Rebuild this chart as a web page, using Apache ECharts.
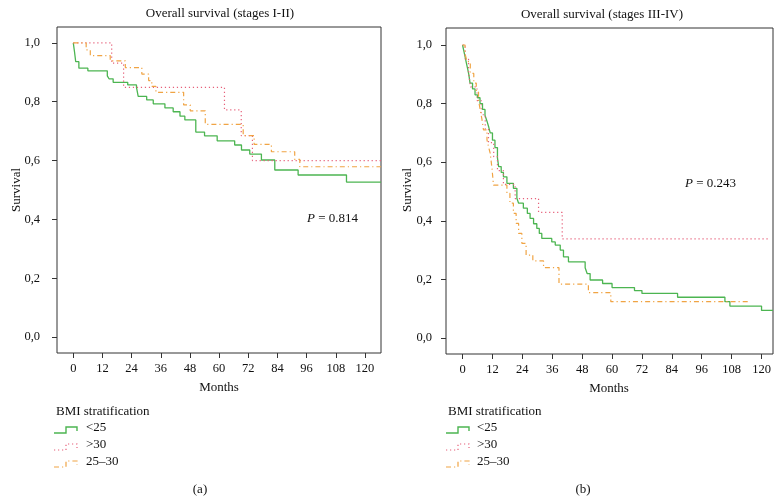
<!DOCTYPE html>
<html>
<head>
<meta charset="utf-8">
<script src="https://cdn.jsdelivr.net/npm/echarts@6/dist/echarts.min.js"></script>
<style>html,body{margin:0;padding:0;background:#fff}#c{width:782px;height:503px}</style>
</head>
<body>
<div id="c"></div>
<script>
// ---------- DATA ----------
const xTicks = [0, 12, 24, 36, 48, 60, 72, 84, 96, 108, 120];
const yTicks = [0, 0.2, 0.4, 0.6, 0.8, 1.0];
const legendNames = ['<25', '>30', '25\u201330'];

// Panel (a): stages I-II
const a_lt25_t = [0, 0.5, 1.0, 2.3, 6.0, 14.0, 14.7, 16.4, 22.4, 26.0, 26.7, 30.2, 32.9, 37.7, 41.1, 43.9, 45.9, 50.4, 54.0, 59.2, 66.4, 69.2, 72.6, 77.4, 82.9, 92.5, 112.4, 126.6];
const a_lt25_s = [1.0, 0.97, 0.936, 0.914, 0.905, 0.888, 0.878, 0.866, 0.857, 0.849, 0.818, 0.806, 0.793, 0.779, 0.766, 0.751, 0.738, 0.697, 0.684, 0.667, 0.653, 0.636, 0.622, 0.602, 0.568, 0.551, 0.527, 0.527];
const a_gt30_t = [0, 15.8, 20.7, 62.2, 69.1, 73.7, 126.6];
const a_gt30_s = [1.0, 0.931, 0.849, 0.772, 0.685, 0.600, 0.600];
const a_mid_t = [0, 5.3, 7.0, 15.2, 21.4, 28.2, 31.0, 32.3, 34.0, 45.4, 48.1, 54.3, 69.9, 74.4, 81.5, 91.1, 93.2, 126.6];
const a_mid_s = [1.0, 0.976, 0.957, 0.939, 0.916, 0.894, 0.872, 0.852, 0.832, 0.789, 0.769, 0.723, 0.685, 0.655, 0.630, 0.604, 0.579, 0.579];

// Panel (b): stages III-IV
const b_lt25_t = [0, 0.5, 1.0, 1.5, 2.0, 2.5, 3.0, 4.0, 5.0, 6.0, 7.0, 8.0, 9.0, 9.8, 10.5, 11.1, 12.0, 13.0, 14.0, 14.5, 15.5, 16.4, 17.8, 20.4, 21.8, 22.5, 24.4, 26.0, 27.1, 28.5, 29.8, 30.8, 31.8, 35.8, 37.2, 39.2, 40.5, 42.5, 49.2, 50.0, 51.2, 56.2, 60.0, 69.0, 72.0, 86.3, 105.3, 107.3, 120.0, 124.6];
const b_lt25_s = [1.0, 0.98, 0.96, 0.94, 0.92, 0.90, 0.87, 0.85, 0.83, 0.82, 0.80, 0.78, 0.76, 0.74, 0.72, 0.70, 0.675, 0.65, 0.615, 0.585, 0.565, 0.55, 0.528, 0.511, 0.477, 0.46, 0.443, 0.425, 0.408, 0.39, 0.374, 0.357, 0.34, 0.328, 0.317, 0.30, 0.277, 0.26, 0.24, 0.22, 0.198, 0.186, 0.172, 0.162, 0.152, 0.139, 0.124, 0.109, 0.094, 0.094];
const b_gt30_t = [0, 1.0, 2.4, 3.2, 5.8, 7.5, 9.1, 10.4, 12.5, 14.0, 16.4, 21.1, 30.5, 40.0, 123.3];
const b_gt30_s = [1.0, 0.952, 0.905, 0.857, 0.810, 0.762, 0.714, 0.667, 0.619, 0.571, 0.524, 0.476, 0.429, 0.338, 0.338];
const b_mid_t = [0, 1.0, 1.8, 3.1, 4.5, 5.5, 6.4, 7.1, 7.8, 8.4, 9.8, 10.5, 11.1, 11.8, 12.4, 17.8, 19.0, 20.4, 21.5, 22.5, 23.8, 25.5, 28.2, 32.5, 38.7, 50.5, 59.5, 114.6];
const b_mid_s = [1.0, 0.97, 0.943, 0.903, 0.87, 0.84, 0.812, 0.778, 0.745, 0.71, 0.676, 0.65, 0.63, 0.58, 0.522, 0.494, 0.46, 0.425, 0.391, 0.357, 0.323, 0.283, 0.263, 0.240, 0.184, 0.155, 0.124, 0.124];

// ---------- STYLE ----------
const GREEN = '#4cb551', RED = '#e6607a', ORANGE = '#f0a444';
const FONT = '"Liberation Serif", "DejaVu Serif", serif';
const pair = (t, s) => t.map((v, i) => [v, s[i]]);

function xAxis(gi, min, max) {
  return {
    type: 'value', gridIndex: gi, min: min, max: max, position: 'bottom',
    axisLine: { show: false, onZero: false }, splitLine: { show: false },
    axisTick: { show: true, inside: false, length: 5, customValues: xTicks, lineStyle: { color: '#333' } },
    axisLabel: { customValues: xTicks, margin: 9, color: '#111', fontFamily: FONT, fontSize: 12.5 }
  };
}
function yAxis(gi, min, max, margin) {
  return {
    type: 'value', gridIndex: gi, min: min, max: max, position: 'left',
    axisLine: { show: false, onZero: false }, splitLine: { show: false },
    axisTick: { show: true, inside: false, length: 5, customValues: yTicks, lineStyle: { color: '#333' } },
    axisLabel: { customValues: yTicks, margin: margin, color: '#111', fontFamily: FONT, fontSize: 12.5,
      formatter: v => v.toFixed(1).replace('.', ',') }
  };
}
function km(name, gi, data, color, type, width) {
  return {
    name: name, type: 'line', step: 'end', xAxisIndex: gi, yAxisIndex: gi,
    data: data, showSymbol: false, symbol: 'none', animation: false,
    lineStyle: { color: color, width: width, type: type }, itemStyle: { color: color }
  };
}

const DOT = [1.2, 2.8];
const DASHDOT = [5, 3, 1.2, 3];

function legendGraphics(x0, tx) {
  const g = [];
  g.push({ type: 'text', left: x0 + 2, top: 405, style: { text: 'BMI stratification', font: '13px ' + FONT, fill: '#111' } });
  const items = [[GREEN, null, 1.4], [RED, DOT, 1.2], [ORANGE, DASHDOT, 1.2]];
  items.forEach((it, i) => {
    const y = 429 + i * 17;
    g.push({ type: 'polyline', shape: { points: [[x0, y + 4], [x0 + 12, y + 4], [x0 + 12, y - 2], [x0 + 23, y - 2], [x0 + 23, y + 2]] },
      style: { stroke: it[0], lineWidth: it[2], lineDash: it[1], fill: null } });
    g.push({ type: 'text', left: tx, top: y - 8, style: { text: legendNames[i], font: '13px ' + FONT, fill: '#111' } });
  });
  return g;
}

const chart = echarts.init(document.getElementById('c'), null, { renderer: 'canvas' });
chart.setOption({
  backgroundColor: '#fff',
  animation: false,
  grid: [
    { left: 57, top: 27, width: 324, height: 326, show: true, borderColor: '#333', borderWidth: 1, backgroundColor: 'transparent' },
    { left: 446, top: 28, width: 327, height: 326, show: true, borderColor: '#333', borderWidth: 1, backgroundColor: 'transparent' }
  ],
  xAxis: [xAxis(0, -6.7, 126.6), xAxis(1, -6.65, 124.6)],
  yAxis: [yAxis(0, -0.054, 1.054, 17), yAxis(1, -0.0546, 1.058, 14)],
  series: [
    km(legendNames[0], 0, pair(a_lt25_t, a_lt25_s), GREEN, 'solid', 1.3),
    km(legendNames[1], 0, pair(a_gt30_t, a_gt30_s), RED, DOT, 1.2),
    km(legendNames[2], 0, pair(a_mid_t, a_mid_s), ORANGE, DASHDOT, 1.2),
    km(legendNames[0], 1, pair(b_lt25_t, b_lt25_s), GREEN, 'solid', 1.3),
    km(legendNames[1], 1, pair(b_gt30_t, b_gt30_s), RED, DOT, 1.2),
    km(legendNames[2], 1, pair(b_mid_t, b_mid_s), ORANGE, DASHDOT, 1.2)
  ],
  graphic: [
    { type: 'text', x: 220, y: 14, style: { text: 'Overall survival (stages I-II)', font: '13px ' + FONT, fill: '#111', align: 'center', verticalAlign: 'middle' } },
    { type: 'text', x: 602, y: 15, style: { text: 'Overall survival (stages III-IV)', font: '13px ' + FONT, fill: '#111', align: 'center', verticalAlign: 'middle' } },
    { type: 'text', x: 17, y: 190, rotation: Math.PI / 2, style: { text: 'Survival', font: '13px ' + FONT, fill: '#111', align: 'center', verticalAlign: 'middle' } },
    { type: 'text', x: 408, y: 190, rotation: Math.PI / 2, style: { text: 'Survival', font: '13px ' + FONT, fill: '#111', align: 'center', verticalAlign: 'middle' } },
    { type: 'text', x: 219, y: 388, style: { text: 'Months', font: '13px ' + FONT, fill: '#111', align: 'center', verticalAlign: 'middle' } },
    { type: 'text', x: 609, y: 389, style: { text: 'Months', font: '13px ' + FONT, fill: '#111', align: 'center', verticalAlign: 'middle' } },
    { type: 'text', x: 307, y: 219, style: { text: '{i|P} = 0.814', font: '13px ' + FONT, fill: '#111', verticalAlign: 'middle',
      rich: { i: { fontStyle: 'italic', fontFamily: FONT, fontSize: 13 } } } },
    { type: 'text', x: 685, y: 184, style: { text: '{i|P} = 0.243', font: '13px ' + FONT, fill: '#111', verticalAlign: 'middle',
      rich: { i: { fontStyle: 'italic', fontFamily: FONT, fontSize: 13 } } } },
    { type: 'text', x: 200, y: 490, style: { text: '(a)', font: '13px ' + FONT, fill: '#111', align: 'center', verticalAlign: 'middle' } },
    { type: 'text', x: 583, y: 490, style: { text: '(b)', font: '13px ' + FONT, fill: '#111', align: 'center', verticalAlign: 'middle' } }
  ].concat(legendGraphics(54, 86)).concat(legendGraphics(446, 477))
});
</script>
</body>
</html>
